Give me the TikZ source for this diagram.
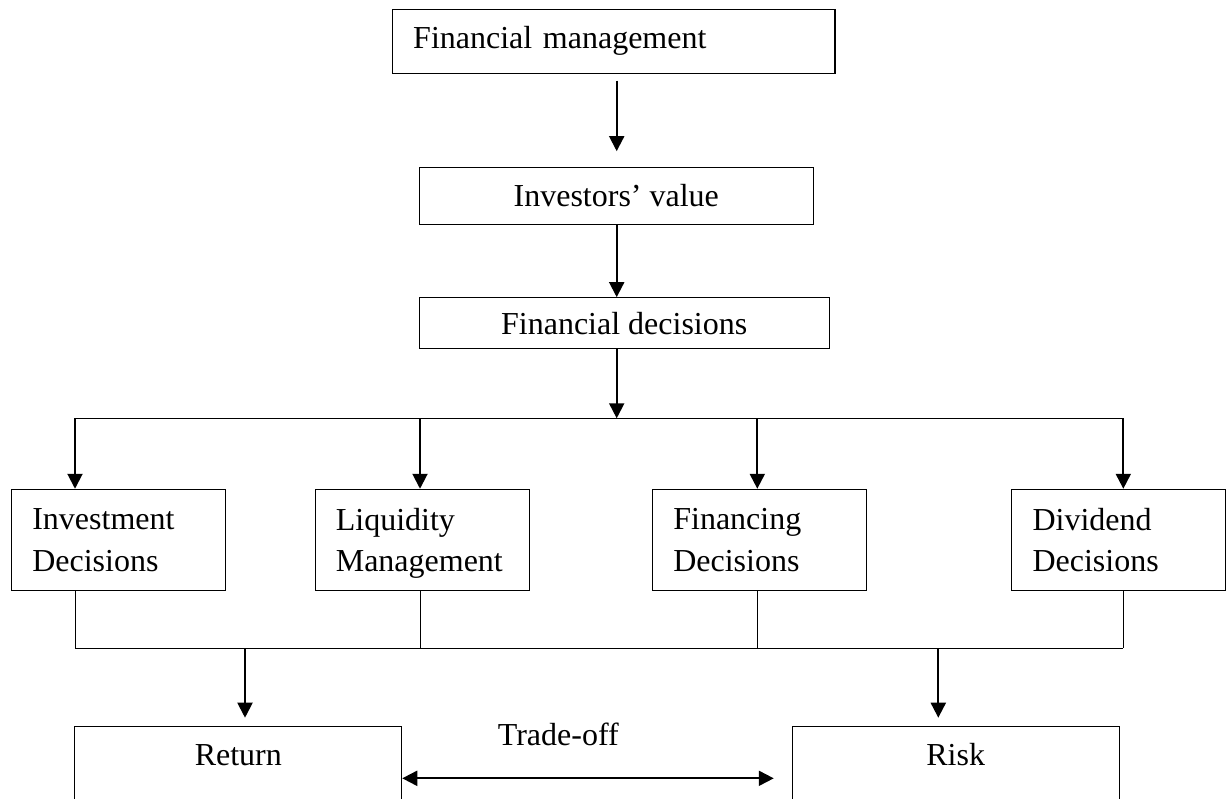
\documentclass[tikz,border=0pt]{standalone}
\usepackage{fontspec}
\setmainfont{Liberation Serif}
\usetikzlibrary{arrows.meta,calc,positioning}

\begin{document}
\begin{tikzpicture}[x=0.5pt,y=-0.5pt,>={Triangle[length=7.5pt,width=7.5pt]},
  every node/.style={font=\fontsize{16}{20.8}\selectfont},
  box/.style={draw,line width=0.55pt,inner sep=0pt},
  decibox/.style={box,minimum width=107pt,minimum height=50.7pt,
    text width=86.4pt,align=left},
  outbox/.style={box,anchor=north,minimum width=163.4pt,inner ysep=8.5pt,
    text height=11pt,text depth=50pt},
  flow/.style={->,line width=1pt},
  duo/.style={<->,line width=1pt},
  bus/.style={line width=0.65pt},
  tie/.style={line width=0.5pt}]
  \useasboundingbox (0,0) rectangle (1229,798);
  \clip (0,0) rectangle (1229,798);

  % top chain
  \node[box,minimum width=221.2pt,minimum height=32pt,text width=200.6pt,align=left]
    (fm) at (613.8,41.3) {Financial management};
  \node[box,minimum width=197pt,minimum height=28.5pt] (iv) at (616.3,195.8) {Investors’ value};
  \node[box,minimum width=204.9pt,minimum height=25.5pt] (fd) at (624.2,323.2) {Financial decisions};

  % decisions
  \node[decibox] (inv) at (118.7,540) {Investment\\Decisions};
  \node[decibox] (liq) at (422.2,540) {Liquidity\\\smash{Management}};
  \node[decibox] (fin) at (759.7,540) {Financing\\Decisions};
  \node[decibox] (div) at (1118.9,540) {Dividend\\Decisions};

  % outcomes
  \node[outbox] (ret) at (238.3,726) {Return};
  \node[outbox] (risk) at (955.7,726) {Risk};
  \node (tradeoff) at (558.3,734.1) {Trade-off};

  \coordinate (t1) at (75,418.3);
  \coordinate (t2) at (420,418.3);
  \coordinate (tc) at (616.7,418.3);
  \coordinate (t3) at (757.3,418.3);
  \coordinate (t4) at (1123.3,418.3);
  \coordinate (b1) at (75,648.3);
  \coordinate (b2) at (420,648.3);
  \coordinate (b3) at (757.3,648.3);
  \coordinate (b4) at (1123.3,648.3);
  \coordinate (bret) at (245,648.3);
  \coordinate (brisk) at (938.3,648.3);

  \draw[flow,shorten <=3.35pt,shorten >=7.8pt] (fm.south -| tc) -- (iv.north -| tc);
  \draw[flow] (iv.south -| tc) -- (fd.north -| tc);
  \draw[flow] (fd.south -| tc) -- (tc);

  \draw[bus] (t1) -- (t4);
  \draw[flow] (t1) -- (inv.north -| t1);
  \draw[flow] (t2) -- (liq.north -| t2);
  \draw[flow] (t3) -- (fin.north -| t3);
  \draw[flow] (t4) -- (div.north -| t4);

  \draw[tie] (inv.south -| b1) -- (b1);
  \draw[tie] (liq.south -| b2) -- (b2);
  \draw[tie] (fin.south -| b3) -- (b3);
  \draw[tie] (div.south -| b4) -- (b4);
  \draw[bus] (b1) -- (b4);

  \draw[flow,shorten >=4.15pt] (bret) -- (ret.north -| bret);
  \draw[flow,shorten >=4.15pt] (brisk) -- (risk.north -| brisk);

  \path (ret.north east) ++(0,52.3) coordinate (ta);
  \draw[duo,shorten >=9pt] (ta) -- (ta -| risk.west);
\end{tikzpicture}
\end{document}
